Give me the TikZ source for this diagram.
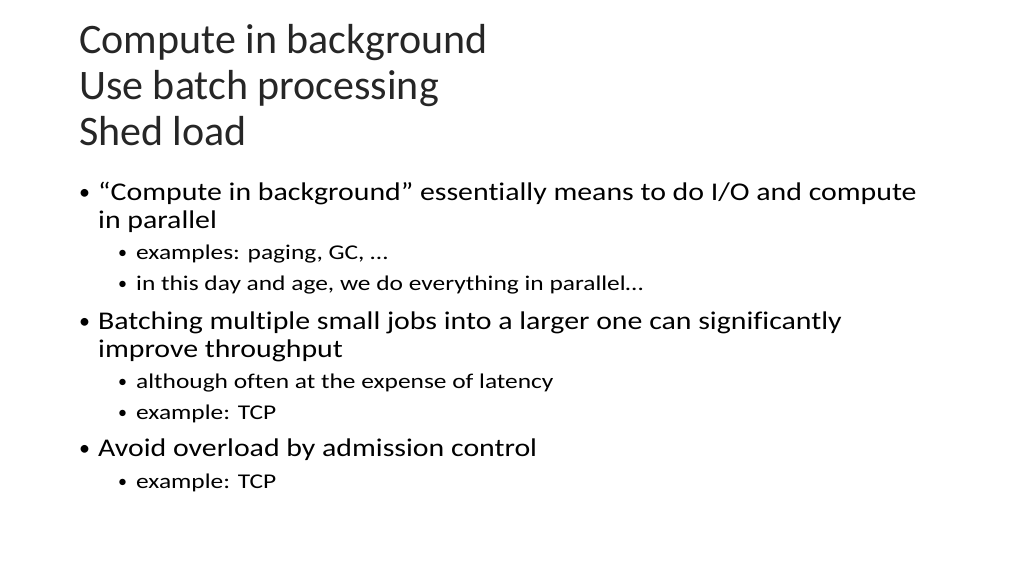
\documentclass[tikz,border=0pt]{standalone}
\usepackage{fontspec}
\setmainfont{Carlito}[Ligatures=NoCommon]
\newfontfamily\bodyf{Carlito}[Ligatures=NoCommon,FakeStretch=1.17]
\newfontfamily\subf{Carlito}[Ligatures=NoCommon,FakeStretch=1.21]
\begin{document}
\begin{tikzpicture}[x=1pt,y=-1pt,
  ttl/.style={anchor=base west,inner sep=0,font=\fontsize{42}{46}\selectfont,text=black!85},
  lone/.style={anchor=base west,inner sep=0,font=\bodyf\fontsize{25.5}{28}\selectfont},
  ltwo/.style={anchor=base west,inner sep=0,font=\subf\fontsize{21}{24}\selectfont},
  dot/.style={anchor=base west,inner sep=0,font=\rmfamily\fontsize{22}{24}\selectfont},
  sdot/.style={anchor=base west,inner sep=0,font=\rmfamily\fontsize{18}{20}\selectfont}]
\useasboundingbox (0,0) rectangle (1024,576);
\node[ttl] (t1) at (79,53) {Compute in background};
\node[ttl] (t2) at (79,99) {Use batch processing};
\node[ttl] (t3) at (79,145) {Shed load};
\node[dot] (b1d) at (79,199) {•};
\node[lone] (b1) at (98,200) {“Compute in background” essentially means to do I/O and compute};
\node[lone] (b1b) at (98,228) {in parallel};
\node[sdot] (s1d) at (118,258) {•};
\node[ltwo] (s1) at (136,259) {examples: paging, GC, …};
\node[sdot] (s2d) at (118,289) {•};
\node[ltwo] (s2) at (136,290) {in this day and age, we do everything in parallel…};
\node[dot] (b2d) at (79,328) {•};
\node[lone] (b2) at (98,329) {Batching multiple small jobs into a larger one can significantly};
\node[lone] (b2b) at (98,357) {improve throughput};
\node[sdot] (s3d) at (118,387) {•};
\node[ltwo] (s3) at (136,388) {although often at the expense of latency};
\node[sdot] (s4d) at (118,418) {•};
\node[ltwo] (s4) at (136,419) {example: TCP};
\node[dot] (b3d) at (79,455) {•};
\node[lone] (b3) at (98,456) {Avoid overload by admission control};
\node[sdot] (s5d) at (118,487) {•};
\node[ltwo] (s5) at (136,488) {example: TCP};
\end{tikzpicture}
\end{document}
